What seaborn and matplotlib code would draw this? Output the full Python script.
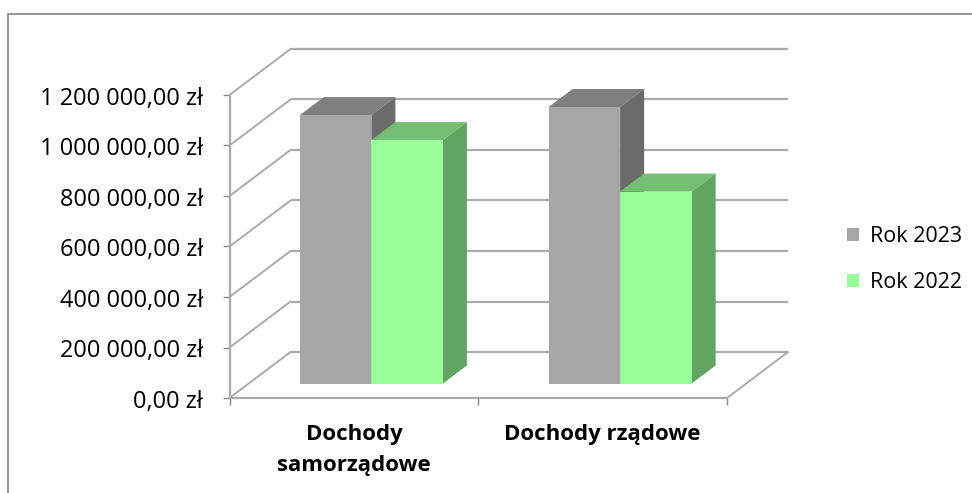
import matplotlib
matplotlib.use("Agg")
import matplotlib.pyplot as plt
from matplotlib.lines import Line2D
from matplotlib.patches import Polygon, Patch
from matplotlib.transforms import ScaledTranslation
import pandas as pd
import seaborn as sns

categories = ["Dochody\nsamorządowe", "Dochody rządowe"]
values_2023 = [1063000, 1095000]
values_2022 = [964000, 760000]
series_names = ["Rok 2023", "Rok 2022"]
tick_values = [0, 200000, 400000, 600000, 800000, 1000000, 1200000]
tick_labels = ["0,00 zł", "200 000,00 zł", "400 000,00 zł", "600 000,00 zł",
               "800 000,00 zł", "1 000 000,00 zł", "1 200 000,00 zł"]

FRONT = ["#A6A6A6", "#99FF99"]
TOP = ["#7F7F7F", "#75BF75"]
SIDE = ["#6B6B6B", "#62A562"]
GRID = "#ABABAB"
W, H = 972, 493

sns.set_theme(style="white")
plt.rcParams["font.family"] = ["Open Sans", "DejaVu Sans"]

fig = plt.figure(figsize=(W / 100, H / 100), dpi=100, facecolor="white")
x0, x1, y0, y1 = 229.5, 727.0, 398.0, 95.0
ax = fig.add_axes([x0 / W, 1 - y0 / H, (x1 - x0) / W, (y0 - y1) / H])

df = pd.DataFrame({
    "kategoria": categories * 2,
    "rok": [series_names[0]] * 2 + [series_names[1]] * 2,
    "wartosc": values_2023 + values_2022,
})
sns.barplot(data=df, x="kategoria", y="wartosc", hue="rok", hue_order=series_names,
            palette=FRONT, saturation=1, width=0.575, gap=0, dodge=True, ax=ax,
            linewidth=0, zorder=5)
ax.set_xlim(-0.5, 1.5)
ax.set_ylim(0, 1200000)
ax.set_xlabel("")
ax.set_ylabel("")

px_x = (x1 - x0) / 2
px_y = (y0 - y1) / 1200000
wall_dx, wall_dy = 61 / px_x, 46 / px_y
bar_shift_x, bar_lift = 17.5 / px_x, 14.5 / px_y
depth_dx, depth_dy = 24 / px_x, 18 / px_y

for v in tick_values:
    ax.plot([-0.5 + wall_dx, 1.5 + wall_dx], [v + wall_dy, v + wall_dy], color=GRID,
            lw=1.6, clip_on=False, zorder=1, solid_capstyle="butt")
    ax.plot([-0.5, -0.5 + wall_dx], [v, v + wall_dy], color=GRID, lw=1.4,
            clip_on=False, zorder=1)
ax.plot([1.5, 1.5 + wall_dx], [0, wall_dy], color=GRID, lw=1.4, clip_on=False, zorder=1)

z = 5
for s, cont in enumerate(ax.containers):
    for bar in cont:
        bx = bar.get_x() + bar_shift_x
        bw = bar.get_width()
        bh = bar.get_height()
        bar.set_x(bx)
        bar.set_y(bar_lift)
        bar.set_clip_on(False)
        bar.set_zorder(z + 3 * s + 2)
        l, r, b, t = bx, bx + bw, bar_lift, bar_lift + bh
        ax.add_patch(Polygon([(l, t), (r, t), (r + depth_dx, t + depth_dy), (l + depth_dx, t + depth_dy)],
                             closed=True, fc=TOP[s], ec="none", clip_on=False, zorder=z + 3 * s))
        ax.add_patch(Polygon([(r, b), (r + depth_dx, b + depth_dy), (r + depth_dx, t + depth_dy), (r, t)],
                             closed=True, fc=SIDE[s], ec="none", clip_on=False, zorder=z + 3 * s + 1))

for side in ["top", "right"]:
    ax.spines[side].set_visible(False)
for side in ["left", "bottom"]:
    ax.spines[side].set_color(GRID)
    ax.spines[side].set_linewidth(1.6)
    ax.spines[side].set_zorder(2)

ax.set_yticks(tick_values)
ax.set_yticklabels(tick_labels, fontsize=17, color="black", va="center")
ax.tick_params(axis="y", length=5, width=1, color="#8C8C8C", pad=14, left=True)
shift_down = ScaledTranslation(0, -4 / 100, fig.dpi_scale_trans)
for lab in ax.get_yticklabels():
    lab.set_transform(lab.get_transform() + shift_down)
ax.set_xticks([0, 1])
ax.set_xticklabels(categories, fontsize=16, fontweight="bold", color="black", linespacing=1.6, va="top")
ax.tick_params(axis="x", which="major", length=0, pad=19)
ax.set_xticks([-0.5, 0.5, 1.5], minor=True)
ax.tick_params(axis="x", which="minor", length=5, width=1, color="#8C8C8C", bottom=True)

ax.get_legend().remove()
handles = [Patch(fc=FRONT[0], ec="none"), Patch(fc=FRONT[1], ec="none")]
fig.legend(handles, series_names, loc="center left", bbox_to_anchor=(847 / W, 1 - 259.5 / H),
           frameon=False, fontsize=15.5, handlelength=0.55, handleheight=0.55, handletextpad=0.5,
           labelspacing=1.15, labelcolor="black", borderpad=0, borderaxespad=0)

frame = "#8E8E8E"
fig.add_artist(Line2D([7.5 / W, 7.5 / W], [0, 1 - 14 / H], color=frame, lw=1.3))
fig.add_artist(Line2D([7.5 / W, 1], [1 - 14 / H, 1 - 14 / H], color=frame, lw=1.3))

fig.savefig("out.png", dpi=100)
